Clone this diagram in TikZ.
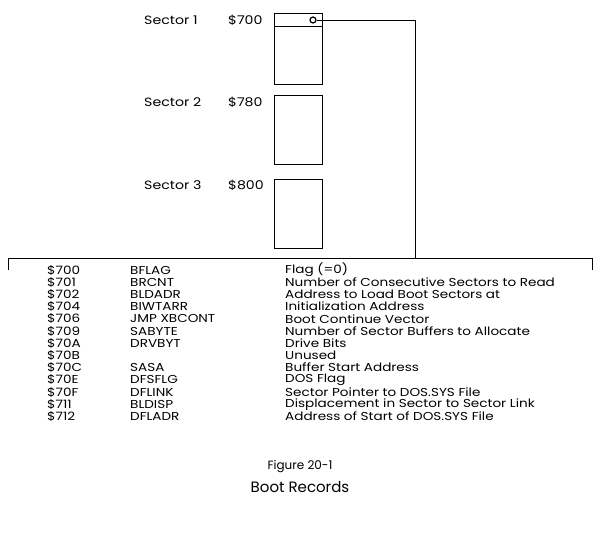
\documentclass[tikz,border=0pt]{standalone}
\usepackage{fontspec}
\setmainfont{Poppins}
\newfontfamily\widefont[FakeStretch=1.18]{Poppins}
\begin{document}
\begin{tikzpicture}[x=1pt,y=-1pt,
  sect/.style={draw,line width=1.3pt,minimum width=48pt,inner sep=0pt,anchor=north west},
  lbl/.style={anchor=west,inner sep=0pt,font=\widefont\fontsize{12}{12}\selectfont},
  row/.style={anchor=west,inner sep=0pt,font=\widefont\fontsize{11.5}{11.5}\selectfont},
  conn/.style={line width=1pt}]
\useasboundingbox (0,0) rectangle (600,538);
% sectors
\node[lbl] (s1) at (144,20) {Sector 1};
\node[lbl] (a1) at (228,20) {\$700};
\node[sect,minimum height=71pt] (b1) at (274,13) {};
\draw[line width=1pt] (b1.west |- 0,26) -- (b1.east |- 0,26);
\node[draw,circle,line width=1.2pt,minimum size=6pt,inner sep=0pt] (circ) at (313,20) {};
\node[lbl] (s2) at (144,102) {Sector 2};
\node[lbl] (a2) at (228,102) {\$780};
\node[sect,minimum height=69pt] (b2) at (274,95) {};
\node[lbl] (s3) at (144,185) {Sector 3};
\node[lbl] (a3) at (228,185) {\$800};
\node[sect,minimum height=69pt] (b3) at (274,179) {};
% bracket
\coordinate (bl) at (8,258);
\coordinate (br) at (592,258);
\coordinate (bj) at (415,258);
\coordinate (blt) at (8,270);
\coordinate (brt) at (592,270);
\draw[conn] (blt) -- (bl) -- (br) -- (brt);
\draw[conn] (circ.east) -| (bj);
% rows
\foreach \i/\ad/\nm/\ds in {
 0/\$700/BFLAG/{Flag (=0)},
 1/\$701/BRCNT/{Number of Consecutive Sectors to Read},
 2/\$702/BLDADR/{Address to Load Boot Sectors at},
 3/\$704/BIWTARR/{Initialization Address},
 4/\$706/JMP XBCONT/{Boot Continue Vector},
 5/\$709/SABYTE/{Number of Sector Buffers to Allocate},
 6/\$70A/DRVBYT/{Drive Bits},
 7/\$70B//{Unused},
 8/\$70C/SASA/{Buffer Start Address},
 9/\$70E/DFSFLG/{DOS Flag},
 10/\$70F/DFLINK/{Sector Pointer to DOS.SYS File},
 11/\$711/BLDISP/{Displacement in Sector to Sector Link},
 12/\$712/DFLADR/{Address of Start of DOS.SYS File}} {
  \node[row] (ad\i) at (47,270+12.2*\i) {\ad};
  \node[row] (nm\i) at (130,270+12.2*\i) {\nm};
  \node[row] (ds\i) at (285,270+12.2*\i) {\ds};
}
\node[font=\fontsize{12}{12}\selectfont,inner sep=0pt] (fig) at (300,467) {Figure 20-1};
\node[font=\fontsize{15}{15}\selectfont,inner sep=0pt] (cap) at (300,487) {Boot Records};
\end{tikzpicture}
\end{document}
